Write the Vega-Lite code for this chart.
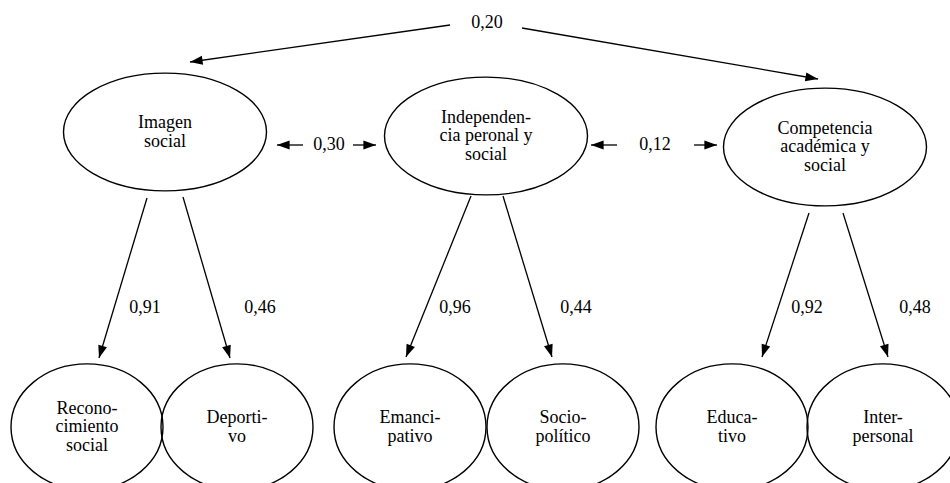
{
  "$schema": "https://vega.github.io/schema/vega-lite/v6.json",
  "width": 950,
  "height": 483,
  "autosize": {"type": "none"},
  "padding": 0,
  "background": "white",
  "config": {"view": {"stroke": null}, "text": {"font": "Liberation Serif"}},
  "datasets": {
    "nodes": [
      {"kind": "latent", "lines": 2, "name": "Imagen\nsocial", "x": 165, "y": 132},
      {"kind": "latent", "lines": 3, "name": "Independen-\ncia peronal y\nsocial", "x": 486, "y": 136},
      {"kind": "latent", "lines": 3, "name": "Competencia\nacadémica y\nsocial", "x": 825, "y": 147},
      {"kind": "observed", "lines": 3, "name": "Recono-\ncimiento\nsocial", "x": 87, "y": 427},
      {"kind": "observed", "lines": 2, "name": "Deporti-\nvo", "x": 237, "y": 427},
      {"kind": "observed", "lines": 2, "name": "Emanci-\npativo", "x": 410, "y": 427},
      {"kind": "observed", "lines": 2, "name": "Socio-\npolítico", "x": 563, "y": 427},
      {"kind": "observed", "lines": 2, "name": "Educa-\ntivo", "x": 732, "y": 427},
      {"kind": "observed", "lines": 2, "name": "Inter-\npersonal", "x": 883, "y": 427}
    ],
    "edges": [
      {"x": 450, "y": 25, "x2": 190, "y2": 62},
      {"x": 522, "y": 28, "x2": 818, "y2": 79},
      {"x": 303, "y": 145, "x2": 277, "y2": 145},
      {"x": 353, "y": 145, "x2": 376, "y2": 145},
      {"x": 617, "y": 145, "x2": 591, "y2": 145},
      {"x": 694, "y": 145, "x2": 717, "y2": 145},
      {"x": 147, "y": 198, "x2": 99, "y2": 358},
      {"x": 183, "y": 197, "x2": 230, "y2": 358},
      {"x": 471, "y": 196, "x2": 406, "y2": 357},
      {"x": 503, "y": 196, "x2": 552, "y2": 357},
      {"x": 809, "y": 213, "x2": 762, "y2": 357},
      {"x": 843, "y": 213, "x2": 888, "y2": 357}
    ],
    "labels": [
      {"text": "0,20", "x": 487, "y": 23},
      {"text": "0,30", "x": 329, "y": 145},
      {"text": "0,12", "x": 655, "y": 145},
      {"text": "0,91", "x": 145, "y": 308},
      {"text": "0,46", "x": 260, "y": 308},
      {"text": "0,96", "x": 455, "y": 308},
      {"text": "0,44", "x": 576, "y": 308},
      {"text": "0,92", "x": 807, "y": 308},
      {"text": "0,48", "x": 915, "y": 308}
    ]
  },
  "layer": [
    {
      "data": {"name": "nodes"},
      "transform": [{"filter": "datum.kind === 'latent'"}],
      "mark": {"type": "point", "shape": "M -1 0 A 1 0.58 0 1 0 1 0 A 1 0.58 0 1 0 -1 0 Z", "size": 41209, "filled": false, "stroke": "black", "strokeWidth": 1.4, "opacity": 1},
      "encoding": {
        "x": {"field": "x", "type": "quantitative", "scale": {"domain": [0, 950], "nice": false, "zero": false}, "axis": null},
        "y": {"field": "y", "type": "quantitative", "scale": {"domain": [0, 483], "nice": false, "zero": false, "reverse": true}, "axis": null}
      }
    },
    {
      "data": {"name": "nodes"},
      "transform": [{"filter": "datum.kind === 'observed'"}],
      "mark": {"type": "point", "shape": "M -1 0 A 1 0.83 0 1 0 1 0 A 1 0.83 0 1 0 -1 0 Z", "size": 23104, "filled": false, "stroke": "black", "strokeWidth": 1.4, "opacity": 1},
      "encoding": {
        "x": {"field": "x", "type": "quantitative", "scale": {"domain": [0, 950], "nice": false, "zero": false}, "axis": null},
        "y": {"field": "y", "type": "quantitative", "scale": {"domain": [0, 483], "nice": false, "zero": false, "reverse": true}, "axis": null}
      }
    },
    {
      "data": {"name": "nodes"},
      "transform": [{"filter": "datum.lines === 2"}],
      "mark": {"type": "text", "font": "Liberation Serif", "fontSize": 18, "lineHeight": 18.5, "lineBreak": "\n", "align": "center", "baseline": "middle", "dy": -9, "color": "black"},
      "encoding": {
        "x": {"field": "x", "type": "quantitative", "scale": {"domain": [0, 950], "nice": false, "zero": false}, "axis": null},
        "y": {"field": "y", "type": "quantitative", "scale": {"domain": [0, 483], "nice": false, "zero": false, "reverse": true}, "axis": null},
        "text": {"field": "name"}
      }
    },
    {
      "data": {"name": "nodes"},
      "transform": [{"filter": "datum.lines === 3"}],
      "mark": {"type": "text", "font": "Liberation Serif", "fontSize": 18, "lineHeight": 18.5, "lineBreak": "\n", "align": "center", "baseline": "middle", "dy": -18.5, "color": "black"},
      "encoding": {
        "x": {"field": "x", "type": "quantitative", "scale": {"domain": [0, 950], "nice": false, "zero": false}, "axis": null},
        "y": {"field": "y", "type": "quantitative", "scale": {"domain": [0, 483], "nice": false, "zero": false, "reverse": true}, "axis": null},
        "text": {"field": "name"}
      }
    },
    {
      "data": {"name": "edges"},
      "mark": {"type": "rule", "color": "black", "strokeWidth": 1.3},
      "encoding": {
        "x": {"field": "x", "type": "quantitative", "scale": {"domain": [0, 950], "nice": false, "zero": false}, "axis": null},
        "y": {"field": "y", "type": "quantitative", "scale": {"domain": [0, 483], "nice": false, "zero": false, "reverse": true}, "axis": null},
        "x2": {"field": "x2"},
        "y2": {"field": "y2"}
      }
    },
    {
      "data": {"name": "edges"},
      "transform": [{"calculate": "atan2(datum.x2 - datum.x, -(datum.y2 - datum.y)) * 180 / PI", "as": "ang"}],
      "mark": {"type": "point", "shape": "M 0 0 L -1 2.8 L 1 2.8 Z", "size": 81, "filled": true, "color": "black", "opacity": 1, "strokeWidth": 0},
      "encoding": {
        "x": {"field": "x2", "type": "quantitative", "scale": {"domain": [0, 950], "nice": false, "zero": false}, "axis": null},
        "y": {"field": "y2", "type": "quantitative", "scale": {"domain": [0, 483], "nice": false, "zero": false, "reverse": true}, "axis": null},
        "angle": {"field": "ang", "type": "quantitative", "scale": null}
      }
    },
    {
      "data": {"name": "labels"},
      "mark": {"type": "text", "font": "Liberation Serif", "fontSize": 18, "align": "center", "baseline": "middle", "color": "black"},
      "encoding": {
        "x": {"field": "x", "type": "quantitative", "scale": {"domain": [0, 950], "nice": false, "zero": false}, "axis": null},
        "y": {"field": "y", "type": "quantitative", "scale": {"domain": [0, 483], "nice": false, "zero": false, "reverse": true}, "axis": null},
        "text": {"field": "text"}
      }
    }
  ]
}
